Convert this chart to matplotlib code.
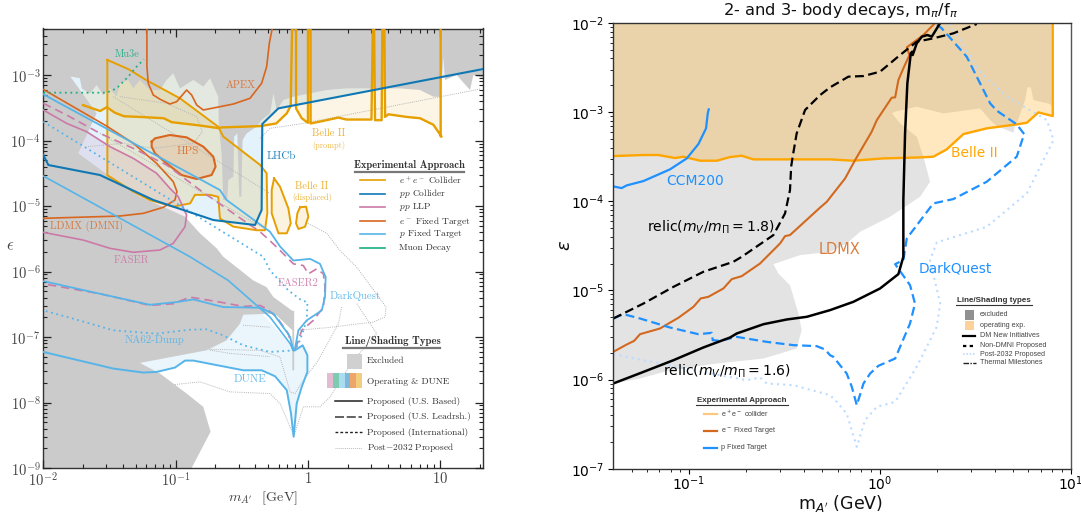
import numpy as np
import matplotlib
matplotlib.use("Agg")
import matplotlib.pyplot as plt
from matplotlib.lines import Line2D
from matplotlib.patches import Rectangle
from matplotlib.ticker import LogLocator, NullFormatter

plt.rcParams['mathtext.fontset'] = 'cm'

# ---------- LEFT PANEL DATA (log10 m [GeV], log10 eps) ----------
gray_top_m = [-2,-1.824,-1.811,-1.786,-1.723,-1.71,-1.647,-1.597,-1.547,-1.496,-1.446,-1.421,-1.358,-1.32,-1.27,-1.194,-1.118,-1.068,-1.018,-0.967,-0.866,-0.791,-0.74,-0.678,-0.673,-0.652,-0.64,-0.61,-0.602,-0.564,-0.557,-0.534,-0.519,-0.504,-0.494,-0.463,-0.388,-0.35,-0.286,-0.261,-0.236,-0.186,-0.11,0.016,0.142,0.293,0.469,0.696,0.847,0.948,1.003,1.023,1.036,1.124,1.225,1.25,1.326,1.326]
gray_top_e = [-3.2,-3.2,-3.10,-3.025,-3.05,-3.204,-3.28,-3.153,-3.305,-3.204,-3.33,-3.127,-3.076,-3.204,-3.076,-3.229,-3.229,-3.076,-2.975,-3.204,-3.076,-3.178,-3.05,-3.33,-3.789,-4.196,-4.908,-4.908,-4.603,-4.552,-3.941,-3.891,-4.858,-4.858,-3.992,-3.891,-3.789,-3.687,-3.585,-3.28,-3.534,-3.382,-3.331,-3.28,-3.229,-3.204,-3.204,-3.204,-3.229,-3.331,-3.331,-2.72,-3.076,-3.0,-3.229,-3.0,-3.05,-2.29]

gray_low_m = [-2,-1.786,-1.597,-1.736,-1.496,-1.27,-1.068,-0.929,-0.816,-0.69,-0.64,-0.413,-0.312,-0.261,-0.118,-0.118,-0.104,-0.104,-0.118,-0.118,-0.236,-0.286,-0.489,-0.514,-0.615,-0.766,-1.27,-1.118,-0.917,-0.791,-0.736,-0.879,-2]
gray_low_e = [-3.05,-3.05,-3.585,-4.196,-4.552,-4.858,-5.036,-5.163,-5.417,-5.646,-5.774,-6.137,-6.239,-6.391,-6.60,-6.60,-6.60,-7.508,-7.508,-6.898,-6.67,-6.645,-6.66,-6.797,-7.05,-7.203,-7.396,-7.558,-7.863,-8.066,-8.447,-9,-9]

belle_prompt_m = [-1.70,-1.57,-1.52,-1.46,-1.39,-1.27,-1.09,-1.03,-0.82,-0.68,-0.65,-0.36,-0.24,-0.16,-0.13,-0.12,-0.09,-0.09,-0.047,0,0,0.02,0.02,0.117,0.23,0.29,0.48,0.49,0.50,0.507,0.557,0.562,0.578,0.583,0.608,0.746,0.847,0.948,1.01,1.003,1.003]
belle_prompt_e = [-3.46,-3.55,-3.49,-3.575,-3.63,-3.64,-3.66,-3.72,-3.77,-3.81,-3.80,-3.78,-3.74,-3.585,-3.47,-2.29,-2.29,-3.51,-3.66,-3.73,-2.29,-2.29,-3.74,-3.70,-3.65,-3.68,-3.68,-2.29,-2.29,-3.69,-3.69,-2.29,-2.29,-3.64,-3.60,-3.64,-3.66,-3.76,-3.94,-3.94,-2.29]

belle_big_m = [-1.516,-1.358,-1.22,-0.967,-0.678,-0.64,-0.363,-0.312,-0.307,-0.325,-0.388,-0.564,-0.665,-0.678,-0.74,-0.854,-0.89,-1.018,-1.194,-1.32,-1.516,-1.516]
belle_big_e = [-2.77,-2.91,-3.08,-3.356,-3.79,-3.94,-4.37,-4.50,-5.11,-5.37,-5.37,-5.315,-5.19,-4.86,-4.83,-4.83,-4.96,-5.01,-4.91,-4.78,-4.53,-2.77]

belle_lobe1_m = [-0.256,-0.211,-0.148,-0.13,-0.16,-0.223,-0.274,-0.274,-0.256]
belle_lobe1_e = [-4.578,-4.705,-5.036,-5.265,-5.417,-5.417,-5.112,-4.756,-4.578]
belle_lobe2_m = [-0.06,-0.014,0.003,-0.022,-0.072,-0.09,-0.08,-0.06]
belle_lobe2_e = [-5.02,-5.01,-5.163,-5.316,-5.351,-5.265,-5.112,-5.02]

hps_m = [-1.181,-1.156,-1.043,-0.917,-0.791,-0.715,-0.698,-0.728,-0.841,-0.955,-1.068,-1.156,-1.181,-1.181]
hps_e = [-4.018,-3.967,-3.916,-3.952,-4.094,-4.247,-4.40,-4.527,-4.588,-4.527,-4.349,-4.196,-4.094,-4.018]

apex_m = [-1.217,-1.217,-1.207,-1.169,-1.118,-1.043,-0.992,-0.917,-0.879,-0.841,-0.791,-0.69,-0.564,-0.438,-0.35,-0.312,-0.292,-0.27]
apex_e = [-2.29,-2.87,-3.127,-3.305,-3.37,-3.443,-3.407,-3.229,-3.305,-3.458,-3.534,-3.494,-3.443,-3.356,-3.127,-2.873,-2.517,-2.29]

ldmx_m = [-2,-1.521,-1.32,-1.144,-1.018,-0.99,-1.005,-1.093,-1.244,-1.421,-2]
ldmx_e = [-3.22,-3.78,-4.043,-4.349,-4.628,-4.78,-4.908,-5.02,-5.112,-5.153,-5.188]

faser_m = [-2,-1.824,-1.673,-1.496,-1.32,-1.144,-1.043,-0.98,-0.917,-0.929,-1.018,-1.118,-1.32,-1.496,-1.698,-2]
faser_e = [-3.534,-3.738,-3.865,-4.094,-4.272,-4.50,-4.73,-4.858,-5.137,-5.316,-5.57,-5.672,-5.707,-5.646,-5.52,-5.402]

faser2_m = [-2,-1.824,-1.572,-1.32,-1.068,-0.816,-0.564,-0.363,-0.287,-0.21,-0.11,-0.035,0.003,0.066,0.117,0.129,0.117,0.041,-0.047,-0.098,-0.11,-0.148,-0.236,-0.312,-0.362,-0.489,-0.665,-0.892,-1.018,-1.194,-1.572,-2]
faser2_e = [-3.433,-3.61,-3.89,-4.12,-4.374,-4.756,-5.112,-5.392,-5.53,-5.68,-5.883,-5.909,-6.036,-5.96,-6.036,-6.239,-6.543,-6.746,-6.898,-7.203,-7.228,-6.949,-6.695,-6.569,-6.518,-6.533,-6.467,-6.391,-6.492,-6.518,-6.34,-6.188]

lhcb_m = [-2,-1.962,-1.572,-1.169,-0.715,-0.40,-0.35,-0.345,-0.223,1.326]
lhcb_e = [-4.221,-4.374,-4.527,-4.908,-5.214,-5.29,-5.061,-3.748,-3.509,-2.908]

darkquest_m = [-2,-0.665,-0.615,-0.287,-0.21,-0.11,0.016,0.091,0.134,0.129,0.104,-0.009,-0.072,-0.098,-0.11,-0.135,-0.16,-0.261,-0.362,-0.64,-0.866,-0.992,-1.194,-1.572,-2]
darkquest_e = [-3.295,-4.756,-4.908,-5.392,-5.62,-5.832,-5.807,-5.883,-6.086,-6.391,-6.594,-6.746,-6.898,-7.178,-7.203,-7.0,-6.924,-6.645,-6.553,-6.543,-6.426,-6.467,-6.508,-6.34,-6.147]

pfixed_diag_m = [-2,-0.892,-0.602,-0.287,-0.135,-0.11]
pfixed_diag_e = [-4.542,-5.774,-6.137,-6.695,-7.10,-7.203]

na62_m = [-2,-0.338,-0.286,-0.148,-0.047,-0.004,-0.009,-0.06,-0.098,-0.286,-0.489,-0.64,-0.766,-0.892,-1.144,-1.471,-1.773,-2]
na62_e = [-3.712,-5.774,-5.985,-6.289,-6.442,-6.467,-6.746,-7.05,-7.203,-7.228,-7.127,-6.975,-6.883,-6.888,-6.949,-6.898,-6.721,-6.594]

dune_m = [-2,-1.471,-1.244,-1.144,-1.005,-0.929,-0.866,-0.489,-0.35,-0.249,-0.16,-0.128,-0.108,-0.085,-0.047,-0.004,-0.004,-0.04,-0.098]
dune_e = [-7.228,-7.482,-7.543,-7.533,-7.467,-7.36,-7.36,-7.508,-7.508,-7.599,-7.812,-8.168,-8.523,-8.015,-7.761,-7.533,-7.279,-7.127,-7.203]

mu3e_m = [-2,-1.521,-1.446,-1.358,-1.295,-1.239]
mu3e_e = [-3.27,-3.27,-3.204,-3.025,-2.873,-2.76]

post_lines = [
    ([-0.362,-0.286,-0.06,1.3], [-3.967,-3.814,-3.748,-3.214]),
    ([-1.471,-0.287], [-3.331,-4.807]),
    ([-1.572,-0.312], [-3.89,-5.366]),
    ([-1.421,-1.068,-0.841,-0.798,-0.866,-1.169,-1.395,-1.673], [-3.33,-3.433,-3.636,-3.865,-4.043,-4.12,-4.043,-4.094]),
    ([0,0.142,0.242,0.369,0.59,0.583,0.495,0.142,-0.085], [-5.265,-5.417,-5.68,-5.934,-6.543,-6.695,-6.772,-6.858,-6.898]),
    ([0.255,0.23,0.079,-0.035,-0.098,-0.135,-0.211,-0.362,-0.753], [-6.543,-6.797,-7.355,-7.66,-7.863,-7.838,-7.305,-7.203,-7.188]),
    ([0.369,0.52,0.343,0.167,0.091,-0.035,-0.108], [-6.492,-6.949,-7.355,-7.914,-8.066,-8.066,-8.523]),
    ([-1.005,-0.816,-0.59,-0.287,-0.21,-0.108], [-7.726,-7.685,-7.838,-7.863,-8.02,-8.5]),
    ([-0.49,-0.29], [-6.82,-6.85]),
    ([-0.74,-0.59,-0.287], [-7.20,-7.25,-7.30]),
]

# ---------- RIGHT PANEL DATA ----------
r_gray_m = [-1.397,-1.397,-1.257,-1.10,-0.855,-0.61,-0.436,-0.41,-0.427,-0.471,-0.532,-0.558,-0.418,-0.261,-0.174,-0.104,0.053,0.211,0.263,0.228,0.193,0.106,0.064,0.08,0.193,0.333,0.525,0.578,0.613,0.70,0.709,0.721,0.761,0.773,0.791,0.805,0.892,0.90,0.90]
r_gray_e = [-2,-6.044,-5.988,-5.895,-5.82,-5.764,-5.652,-5.446,-5.259,-4.941,-4.81,-4.705,-4.604,-4.567,-4.473,-4.342,-4.174,-3.949,-3.781,-3.50,-3.276,-3.126,-3.014,-2.995,-2.939,-3.014,-2.958,-3.089,-3.156,-3.231,-3.145,-3.107,-2.864,-2.722,-2.722,-2.864,-2.909,-2.94,-2]

r_belle_m = [-1.397,-1.239,-1.161,-1.073,-1.03,-0.942,-0.855,-0.785,-0.724,-0.663,-0.261,-0.139,0.018,0.211,0.28,0.35,0.438,0.56,0.717,0.77,0.831,0.906,0.906]
r_belle_e = [-3.493,-3.481,-3.481,-3.515,-3.50,-3.545,-3.545,-3.504,-3.489,-3.53,-3.53,-3.545,-3.519,-3.508,-3.50,-3.418,-3.246,-3.182,-3.137,-3.119,-3.003,-3.044,-2.0]

r_ccm_m = [-1.397,-1.353,-1.327,-1.239,-1.10,-1.012,-0.951,-0.911,-0.902,-0.897]
r_ccm_e = [-3.833,-3.852,-3.822,-3.773,-3.642,-3.519,-3.358,-3.182,-3.014,-2.969]

r_ldmx_m = [-1.397,-1.327,-1.288,-1.257,-1.152,-1.056,-0.977,-0.939,-0.899,-0.82,-0.776,-0.724,-0.628,-0.523,-0.497,-0.471,-0.313,-0.278,-0.182,-0.13,-0.043,-0.016,0.062,0.08,0.097,0.123,0.155,0.141,0.228,0.289]
r_ldmx_e = [-5.689,-5.607,-5.566,-5.491,-5.427,-5.307,-5.184,-5.09,-5.072,-4.978,-4.873,-4.84,-4.698,-4.473,-4.391,-4.379,-4.07,-4.005,-3.743,-3.538,-3.22,-3.089,-2.838,-2.834,-2.64,-2.509,-2.359,-2.273,-2.135,-2.0]

r_relic18_m = [-1.397,-1.239,-1.082,-0.925,-0.768,-0.724,-0.558,-0.497,-0.471,-0.465,-0.457,-0.436,-0.392,-0.313,-0.261,-0.165,-0.086,0.001,0.106,0.193,0.28,0.385,0.508]
r_relic18_e = [-5.315,-5.147,-4.96,-4.791,-4.679,-4.623,-4.379,-4.136,-3.874,-3.612,-3.50,-3.238,-2.976,-2.808,-2.722,-2.602,-2.595,-2.546,-2.359,-2.21,-2.172,-2.116,-2.011]

r_relic16_m = [-1.397,-1.239,-1.082,-0.925,-0.785,-0.75,-0.61,-0.488,-0.383,-0.261,-0.139,0.001,0.097,0.123,0.123,0.132,0.144,0.162,0.169,0.172,0.193,0.22,0.249,0.272,0.316]
r_relic16_e = [-6.044,-5.914,-5.783,-5.64,-5.528,-5.483,-5.379,-5.326,-5.296,-5.221,-5.128,-4.978,-4.817,-4.623,-3.987,-3.238,-2.677,-2.34,-2.322,-2.359,-2.228,-2.153,-2.135,-2.153,-2.0]

r_dq_m = [-1.397,-1.344,-1.257,-1.10,-0.951,-0.881,-0.876,-0.838,-0.75,-0.593,-0.453,-0.331,-0.287,-0.261,-0.244,-0.174,-0.147,-0.121,-0.086,-0.051,-0.008,0.08,0.158,0.184,0.158,0.08,0.123,0.141,0.28,0.385,0.56,0.717,0.756,0.717,0.613,0.578,0.455,0.324,0.289]
r_dq_e = [-5.315,-5.266,-5.315,-5.416,-5.491,-5.476,-5.558,-5.566,-5.521,-5.577,-5.614,-5.625,-5.663,-5.727,-5.745,-5.932,-6.082,-6.288,-6.044,-5.932,-5.846,-5.764,-5.371,-5.147,-4.941,-4.705,-4.66,-4.417,-4.024,-3.975,-3.781,-3.50,-3.246,-3.137,-2.984,-2.902,-2.378,-2.06,-2.0]

r_post_m = [-1.397,-1.239,-0.977,-0.698,-0.628,-0.593,-0.453,-0.261,-0.226,-0.174,-0.121,-0.078,-0.016,0.08,0.193,0.298,0.316,0.263,0.298,0.56,0.77,0.91,0.875,0.665,0.525,0.42,0.359]
r_post_e = [-5.715,-5.783,-5.895,-6.007,-5.977,-6.044,-6.063,-6.175,-6.25,-6.381,-6.755,-6.456,-6.306,-6.25,-5.857,-5.408,-5.147,-4.66,-4.462,-4.286,-3.912,-3.313,-3.089,-2.827,-2.546,-2.19,-2.0]

# ---------- COLOURS ----------
C_EE = '#E69F00'; C_PP = '#0F78B4'; C_LLP = '#CC79A7'; C_EF = '#D8661E'; C_PF = '#56B4E9'; C_MU = '#1BAE82'
C_GRAY = '#cbcbcb'
R_OR = '#ffa500'; R_BL = '#1e90ff'; R_EF = '#d2691e'; R_POST = '#bcdcff'

W, H = 1081, 516
fig = plt.figure(figsize=(W/100, H/100), dpi=100)

def P(m, e):
    return 10**np.asarray(m, float), 10**np.asarray(e, float)

def txt(x, y, s, **k):
    k.setdefault('ha', 'center'); k.setdefault('va', 'center')
    return fig.text(x/W, 1-y/H, s, **k)

def fline(x0, x1, y, **k):
    fig.add_artist(Line2D([x0/W, x1/W], [1-y/H, 1-y/H], transform=fig.transFigure, **k))

def frect(x0, x1, y0, y1, **k):
    fig.add_artist(Rectangle((x0/W, 1-y1/H), (x1-x0)/W, (y1-y0)/H, transform=fig.transFigure, lw=0, **k))

# ---------- LEFT ----------
ax = fig.add_axes([43.3/W, 1-468/H, 439.7/W, 439.5/H])
ax.set_xscale('log'); ax.set_yscale('log')
xtop = -2.29
ax.set_xlim(10**-2, 10**1.323); ax.set_ylim(1e-9, 10**xtop)

def fill(m, e, c, a, z=1, closetop=False):
    x, y = list(m), list(e)
    if closetop:
        x += [x[-1], x[0]]; y += [xtop, xtop]
    X, Y = P(x, y)
    ax.fill(X, Y, color=c, alpha=a, lw=0, zorder=z)

fill(lhcb_m, lhcb_e, C_PF, 0.16, closetop=True)
fill(faser_m, faser_e, C_LLP, 0.14)
fill(belle_big_m, belle_big_e, C_EE, 0.15)
fill(belle_prompt_m, belle_prompt_e, C_EE, 0.10, closetop=True)
fill(belle_lobe1_m, belle_lobe1_e, C_EE, 0.12)
fill(belle_lobe2_m, belle_lobe2_e, C_EE, 0.12)
fill(dune_m + [-0.362, -2], dune_e + [-6.6, -6.6], C_PF, 0.12)
fill(gray_low_m, gray_low_e, C_GRAY, 1, z=2)
gx = gray_top_m + [-2]; gy = gray_top_e + [-2.29]
fill(gx, gy, C_GRAY, 1, z=2)
fill(hps_m, hps_e, C_EF, 0.15, z=3)

for m, e in post_lines:
    ax.plot(*P(m, e), color='#b5b5b5', lw=0.7, ls=(0, (1, 1.2)), zorder=3)

ax.plot(*P(belle_prompt_m, belle_prompt_e), color=C_EE, lw=1.7, zorder=5)
ax.plot(*P(belle_big_m, belle_big_e), color=C_EE, lw=1.4, zorder=5)
ax.plot(*P(belle_lobe1_m, belle_lobe1_e), color=C_EE, lw=1.4, zorder=5)
ax.plot(*P(belle_lobe2_m, belle_lobe2_e), color=C_EE, lw=1.4, zorder=5)
ax.plot(*P(hps_m, hps_e), color=C_EF, lw=1.5, zorder=5)
ax.plot(*P(apex_m, apex_e), color=C_EF, lw=1.2, zorder=5)
ax.plot(*P(ldmx_m, ldmx_e), color=C_EF, lw=1.2, zorder=5)
ax.plot(*P(faser_m, faser_e), color=C_LLP, lw=1.2, zorder=5)
ax.plot(*P(faser2_m, faser2_e), color=C_LLP, lw=1.2, ls=(0, (5, 3)), zorder=5)
ax.plot(*P(darkquest_m, darkquest_e), color=C_PF, lw=1.3, zorder=6)
ax.plot(*P(pfixed_diag_m, pfixed_diag_e), color=C_PF, lw=1.2, zorder=6)
ax.plot(*P(na62_m, na62_e), color=C_PF, lw=1.3, ls=(0, (1, 2)), zorder=6)
ax.plot(*P(dune_m, dune_e), color=C_PF, lw=1.4, zorder=6)
ax.plot(*P(lhcb_m, lhcb_e), color=C_PP, lw=1.5, zorder=6)
ax.plot(*P(mu3e_m, mu3e_e), color=C_MU, lw=1.3, ls=(0, (1, 2)), zorder=6)

TC = '#444444'
ax.set_xticks([1e-2, 1e-1, 1, 10]); ax.set_xticklabels(['$10^{-2}$', '$10^{-1}$', '$1$', '$10$'])
ax.set_yticks([10.0**k for k in range(-9, -2)])
ax.set_yticklabels(['$10^{%d}$' % k for k in range(-9, -2)])
ax.xaxis.set_minor_locator(LogLocator(base=10, subs=np.arange(2, 10), numticks=20))
ax.yaxis.set_minor_locator(LogLocator(base=10, subs=np.arange(2, 10), numticks=20))
ax.xaxis.set_minor_formatter(NullFormatter()); ax.yaxis.set_minor_formatter(NullFormatter())
ax.tick_params(which='major', direction='in', top=True, right=True, length=6, width=0.9, labelsize=10.5, labelcolor=TC, color='#222222', pad=2)
ax.tick_params(which='minor', direction='in', top=True, right=True, length=3.2, width=0.8, color='#222222')
for s in ax.spines.values():
    s.set_linewidth(1.0); s.set_color('#333333')
ax.set_axisbelow(False)

SER = 'cmr10'
def lt(x, y, s, c, fs=8, **k):
    txt(x, y, s, color=c, family=SER, fontsize=fs, alpha=k.pop('alpha', 0.9), zorder=20, **k)

lt(127, 54, 'Mu3e', C_MU, 7.4)
lt(241, 85, 'APEX', C_EF, 7.6, alpha=0.8)
lt(188, 151, 'HPS', C_EF, 8.2, alpha=0.8)
lt(281, 156, 'LHCb', C_PP, 8)
lt(329, 133, 'Belle II', C_EE, 7.5, alpha=0.8)
lt(329, 145, '(prompt)', C_EE, 6, alpha=0.7)
lt(312, 186, 'Belle II', C_EE, 7.5, alpha=0.8)
lt(312, 197, '(displaced)', C_EE, 6, alpha=0.8)
lt(87, 226, 'LDMX (DMNI)', C_EF, 7.6, alpha=0.8)
lt(131, 260, 'FASER', C_LLP, 7.6)
lt(298, 283, 'FASER2', C_LLP, 7.6)
lt(355, 296, 'DarkQuest', C_PF, 7.8)
lt(154, 340, 'NA62-Dump', C_PF, 7.8)
lt(250, 379, 'DUNE', C_PF, 8)

txt(10, 245, r'$\epsilon$', fontsize=12, color=TC)
txt(263, 498, r"$m_{A'}$  [GeV]", fontsize=10.2, color=TC, family=SER)

# left legends
LC = '#333333'
txt(409, 165.5, 'Experimental Approach', family='cmb10', fontsize=7.6, color=LC)
fline(355, 464, 172, color='#777777', lw=1.6)
appr_labels = ['$e^+e^-$ Collider', '$pp$ Collider', '$pp$ LLP', '$e^-$ Fixed Target', '$p$ Fixed Target', 'Muon Decay']
appr_colors = [C_EE, C_PP, C_LLP, C_EF, C_PF, C_MU]
appr_y = [180, 193.7, 207, 221, 234, 248]
for s, c, y in zip(appr_labels, appr_colors, appr_y):
    fline(360, 385, y, color=c, lw=1.2)
    txt(399, y, s, ha='left', family=SER, fontsize=6.8, color=LC)

txt(392.7, 341.5, 'Line/Shading Types', family='cmb10', fontsize=7.8, color=LC)
fline(343, 440, 347.7, color='#777777', lw=1.6)
frect(347, 362, 354, 369, color='#d0d0d0')
txt(367, 361, 'Excluded', ha='left', family=SER, fontsize=6.8, color=LC)
cells = ['#e3bcd4', '#7fcbb2', '#aadcf2', '#7fb8d8', '#eea56a', '#f2cc7f']
cw = (362-327)/6
for i, c in enumerate(cells):
    frect(327+i*cw, 327+(i+1)*cw, 372.7, 387.7, color=c)
txt(367, 382, 'Operating & DUNE', ha='left', family=SER, fontsize=6.8, color=LC)
lg_lab = ['Proposed (U.S. Based)', 'Proposed (U.S. Leadrsh.)', 'Proposed (International)', r'Post$-$2032 Proposed']
lg_y = [401.3, 416.7, 432.3, 447.7]
lg_sty = [dict(color='#222222', lw=1.1), dict(color='#555555', lw=1.3, ls=(0, (5, 1.5))),
          dict(color='#222222', lw=1.0, ls=(0, (2, 1.5))), dict(color='#bbbbbb', lw=0.7, ls=(0, (1, 1)))]
for s, y, st in zip(lg_lab, lg_y, lg_sty):
    fline(335, 362, y, **st)
    txt(367, y, s, ha='left', family=SER, fontsize=6.8, color=LC)

# ---------- RIGHT ----------
bx = fig.add_axes([613.3/W, 1-468.7/H, 457.4/W, 445.7/H])
bx.set_xscale('log'); bx.set_yscale('log')
bx.set_xlim(10**-1.397, 10); bx.set_ylim(1e-7, 1e-2)
X, Y = P(r_gray_m, r_gray_e)
bx.fill(X, Y, color='#e3e3e3', lw=0, zorder=1)
xb, yb = P(r_belle_m + [-1.397], r_belle_e + [-2])
bx.fill(xb, yb, color=R_OR, alpha=0.25, lw=0, zorder=2)
bx.plot(*P(r_post_m, r_post_e), color=R_POST, lw=1.5, ls=(0, (1, 2)), zorder=3)
bx.plot(*P(r_belle_m, r_belle_e), color=R_OR, lw=1.7, zorder=4)
bx.plot(*P(r_ldmx_m, r_ldmx_e), color=R_EF, lw=1.5, zorder=4)
bx.plot(*P(r_ccm_m, r_ccm_e), color=R_BL, lw=1.6, zorder=4)
bx.plot(*P(r_dq_m, r_dq_e), color=R_BL, lw=1.6, ls=(0, (4, 2)), zorder=4)
bx.plot(*P(r_relic18_m, r_relic18_e), color='black', lw=1.6, ls=(0, (4, 2)), zorder=5)
bx.plot(*P(r_relic16_m, r_relic16_e), color='black', lw=1.8, zorder=5)

bx.set_xticks([0.1, 1, 10]); bx.set_xticklabels(['$10^{-1}$', '$10^{0}$', '$10^{1}$'], math_fontfamily='dejavusans')
bx.set_yticks([10.0**k for k in range(-7, -1)])
bx.set_yticklabels(['$10^{%d}$' % k for k in range(-7, -1)], math_fontfamily='dejavusans')
bx.xaxis.set_minor_locator(LogLocator(base=10, subs=np.arange(2, 10), numticks=20))
bx.yaxis.set_minor_locator(LogLocator(base=10, subs=np.arange(2, 10), numticks=20))
bx.xaxis.set_minor_formatter(NullFormatter()); bx.yaxis.set_minor_formatter(NullFormatter())
bx.tick_params(which='major', direction='out', length=3.5, width=0.8, labelsize=10, pad=3)
bx.tick_params(axis='x', which='major', pad=0.5)
bx.tick_params(which='minor', direction='out', length=2, width=0.6)
for n, s in bx.spines.items():
    s.set_linewidth(1.0); s.set_color('#333333')
    s.set_zorder(10)
bx.spines['right'].set_color('#555555')

DJ = 'dejavusans'
txt(840.5, 10, r'2- and 3- body decays, m$_{\pi}$/f$_{\pi}$', fontsize=11.7, math_fontfamily=DJ, color='#111111')
txt(695, 181, 'CCM200', color=R_BL, fontsize=10)
txt(711, 227, r'relic($m_V/m_\Pi=1.8$)', fontsize=10.1, math_fontfamily=DJ, color='black')
txt(727, 371, r'relic($m_V/m_\Pi=1.6$)', fontsize=10.1, math_fontfamily=DJ, color='black')
txt(839, 250, 'LDMX', color=R_EF, fontsize=10.5, alpha=0.85)
txt(974, 153, 'Belle II', color=R_OR, fontsize=9.9)
txt(955, 269, 'DarkQuest', color=R_BL, fontsize=9.9)
txt(841, 503, r"m$_{A'}$ (GeV)", fontsize=12.5, math_fontfamily=DJ, color='#111111')
txt(565, 245, r'$\epsilon$', fontsize=13, math_fontfamily=DJ, color='#111111', rotation=90)

SF = 'Liberation Sans'
txt(741.7, 401, 'Experimental Approach', family=SF, fontweight='bold', fontsize=5.8, color='#333333')
fline(696, 788, 405, color='#333333', lw=0.8)
r_labs = ['e$^+$e$^-$ collider', 'e$^-$ Fixed Target', 'p Fixed Target']
r_cols = ['#fcc77e', R_EF, R_BL]
r_ys = [414, 431, 447.5]
for s, c, y in zip(r_labs, r_cols, r_ys):
    fline(704, 717, y, color=c, lw=1.6)
    txt(721, y, s, ha='left', family=SF, fontsize=5.2, color='#444444', math_fontfamily=DJ)

txt(994, 301, 'Line/Shading types', family=SF, fontweight='bold', fontsize=5.8, color='#333333')
fline(956, 1032, 305, color='#333333', lw=0.8)
frect(965, 974, 310, 319.5, color='#909090')
frect(965, 974, 321, 330, color='#fdd19a')
t_labs = ['excluded', 'operating exp.', 'DM New Initiatives', 'Non-DMNI Proposed', 'Post-2032 Proposed', 'Thermal Milestones']
t_ys = [314.5, 325.5, 335.7, 345.7, 354.3, 362.7]
for s, y in zip(t_labs, t_ys):
    txt(980, y, s, ha='left', family=SF, fontsize=5.1, color='#444444')
fline(962.5, 975, 335.7, color='black', lw=1.6)
fline(962.5, 975, 345.7, color='black', lw=1.6, ls=(0, (1.5, 1.5)))
fline(962.5, 975, 354.3, color=R_POST, lw=1.2, ls=(0, (1, 1)))
fline(963, 976, 362.7, color='#222222', lw=1.0, ls=(0, (4, 1, 1, 1)))

fig.savefig('out.png', dpi=100)
